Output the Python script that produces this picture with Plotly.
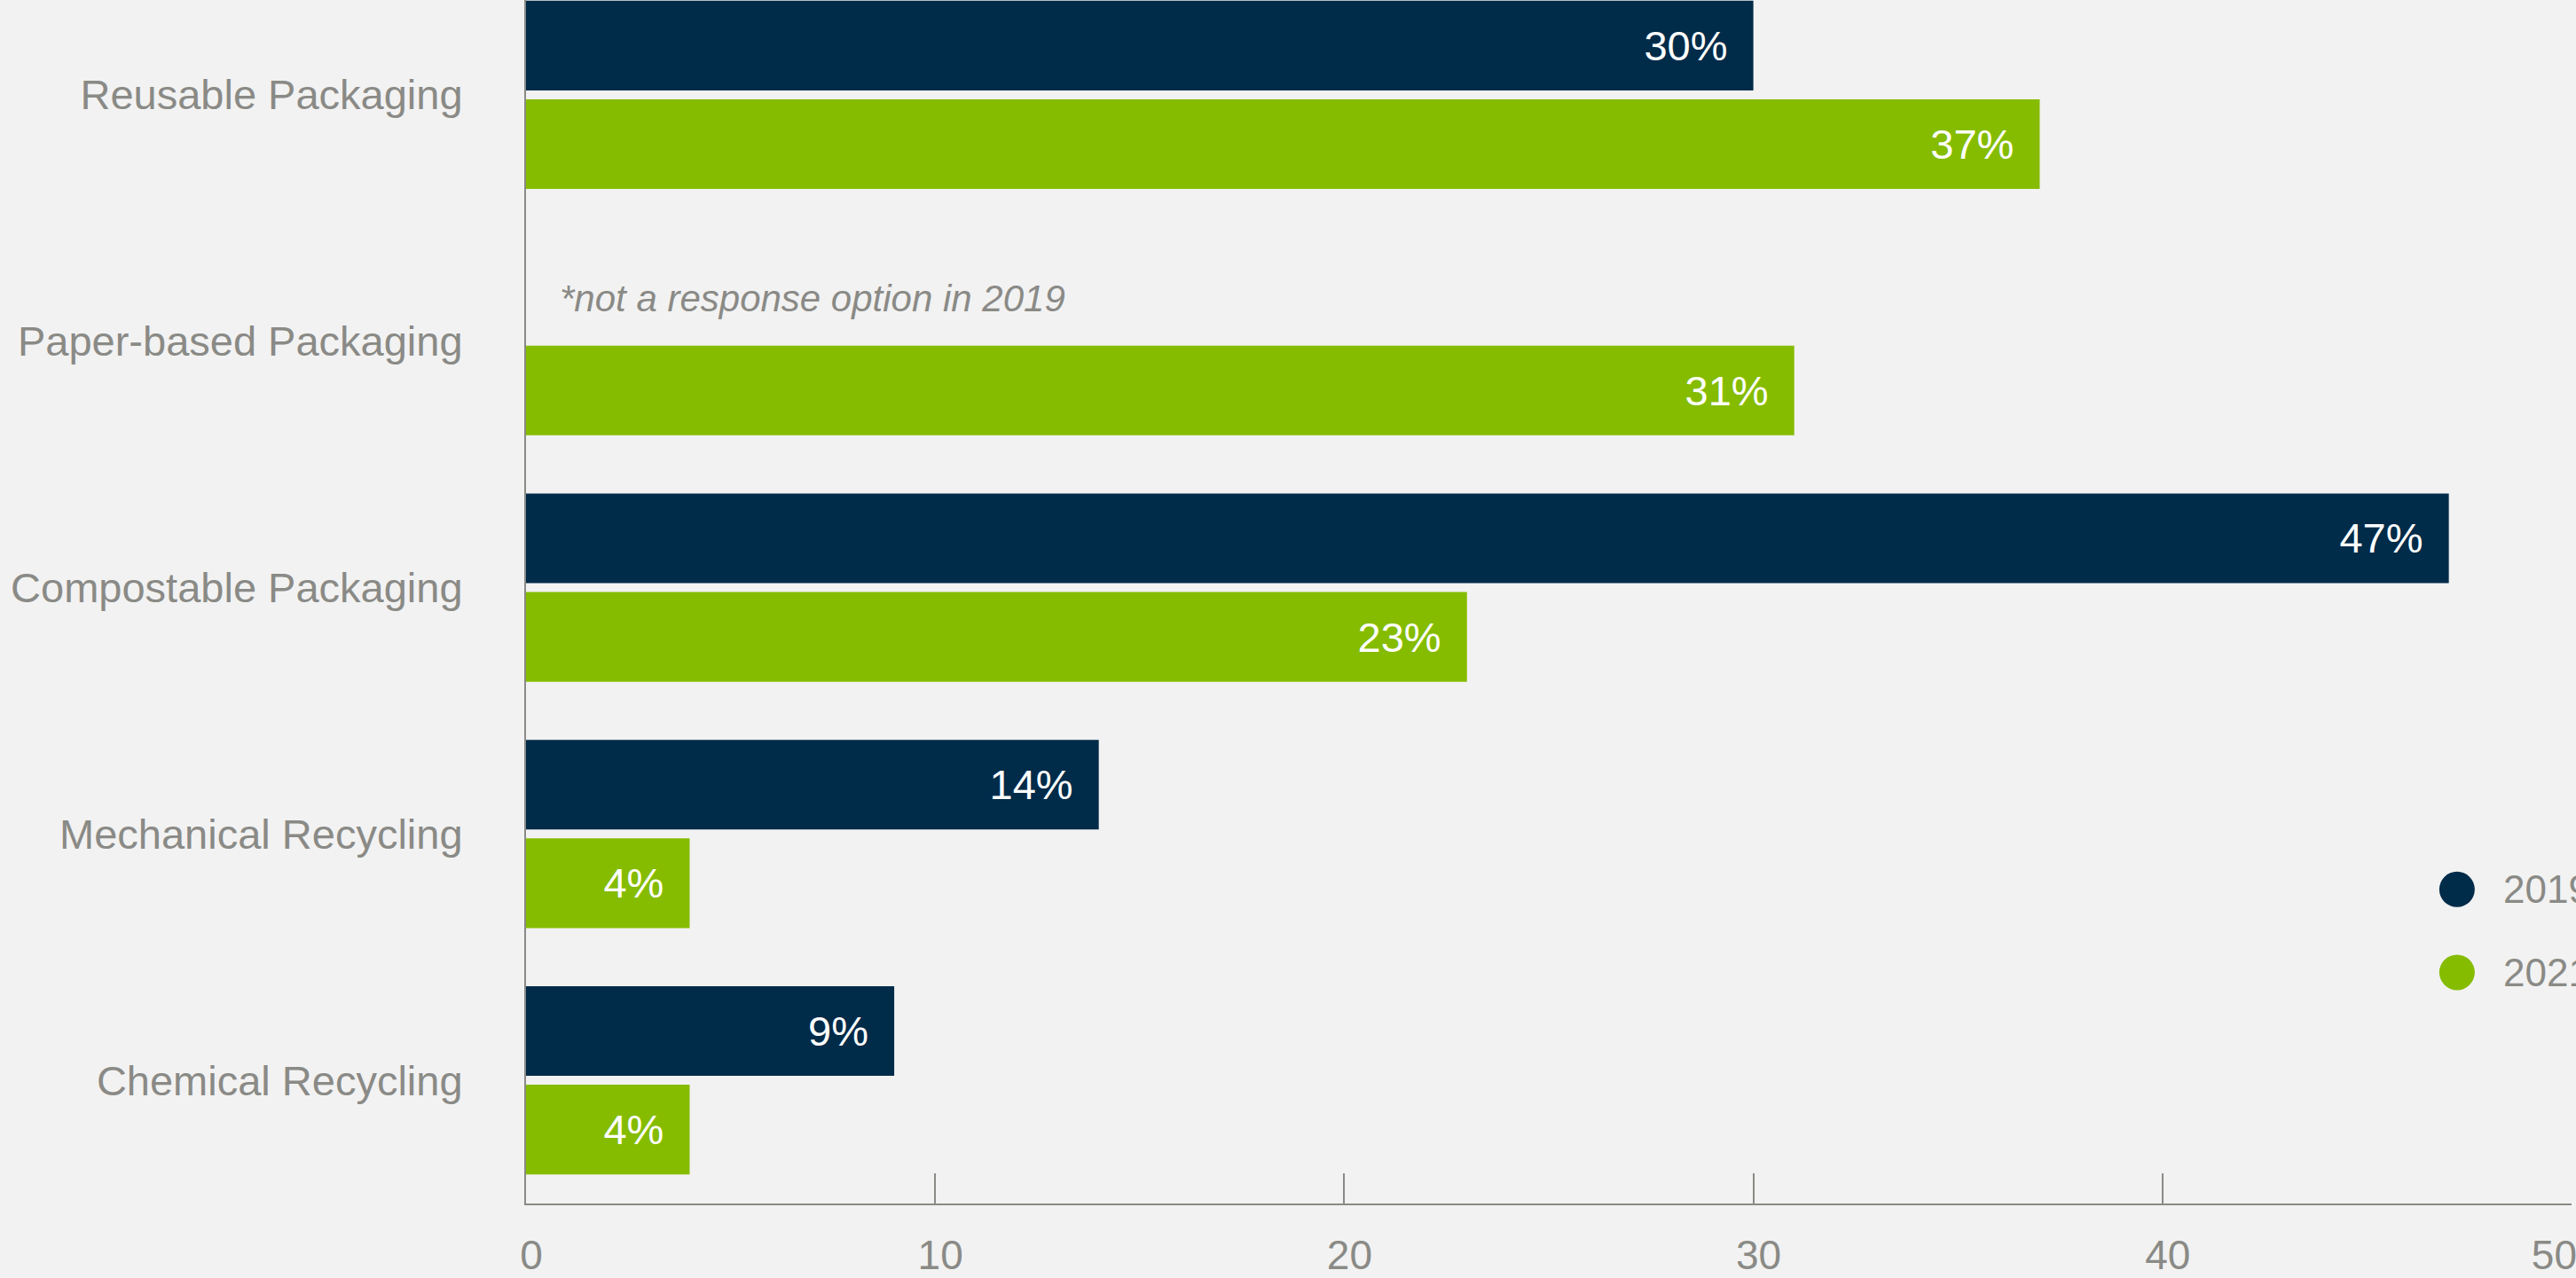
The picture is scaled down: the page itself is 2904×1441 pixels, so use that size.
import plotly.graph_objects as go

categories = ["Reusable Packaging", "Paper-based Packaging", "Compostable Packaging",
              "Mechanical Recycling", "Chemical Recycling"]
values_2019 = [30, None, 47, 14, 9]
values_2021 = [37, 31, 23, 4, 4]
series_names = ["2019", "2021"]
x_ticks = [0, 10, 20, 30, 40, 50]
note_text = "*not a response option in 2019"
note_category = "Paper-based Packaging"

NAVY = "#002b49"
GREEN = "#85bc00"
GRAY = "#8a8a86"
FONT = "Liberation Sans, Arial, Helvetica, sans-serif"
PAD = "\u00a0\u00a0"

fig = go.Figure()
for name, vals, col in [(series_names[0], values_2019, NAVY), (series_names[1], values_2021, GREEN)]:
    fig.add_trace(go.Bar(
        y=categories, x=vals, orientation="h", name=name,
        marker=dict(color=col, line=dict(width=0)),
        texttemplate="%{x}%" + PAD, textposition="inside", insidetextanchor="end",
        textfont=dict(color="white", size=47, family=FONT),
        constraintext="none", showlegend=False, hoverinfo="x+name",
    ))

# legend drawn as large round swatches + labels
legend_y = [0.261, 0.192]
for name, col, yy in zip(series_names, [NAVY, GREEN], legend_y):
    fig.add_shape(type="circle", xref="paper", yref="paper", xsizemode="pixel", ysizemode="pixel",
                  xanchor=0.944, yanchor=yy, x0=-20, x1=20, y0=-20, y1=20,
                  fillcolor=col, line=dict(width=0))
    fig.add_annotation(xref="paper", yref="paper", x=0.9657, y=yy, text=name, showarrow=False,
                       xanchor="left", yanchor="middle", font=dict(size=44, color=GRAY, family=FONT))

fig.add_annotation(x=0, y=note_category, xref="x", yref="y", text="<i>" + note_text + "</i>",
                   showarrow=False, xanchor="left", yanchor="middle", xshift=36, yshift=48,
                   font=dict(size=42, color=GRAY, family=FONT))

tick_text = [str(t) for t in x_ticks]
tick_text[-1] = tick_text[-1] + "\u00a0" * 4

fig.update_layout(
    width=2904, height=1441,
    margin=dict(l=593, r=5, t=0, b=84, autoexpand=False),
    paper_bgcolor="#f2f2f2", plot_bgcolor="rgba(0,0,0,0)",
    barmode="group", bargap=0.2, bargroupgap=0.09,
    font=dict(family=FONT, color=GRAY),
    showlegend=False,
)
fig.update_xaxes(range=[0, 50], tickvals=x_ticks, ticktext=tick_text,
                 showgrid=False, zeroline=False, showline=True, linecolor=GRAY, linewidth=2,
                 ticks="inside", ticklen=34, tickwidth=2, tickcolor=GRAY,
                 tickfont=dict(size=46, color=GRAY, family=FONT), ticklabelstandoff=17,
                 ticklabelshift=6, ticklabeloverflow="allow")
fig.update_yaxes(type="category", categoryorder="array", categoryarray=categories,
                 range=[4.5, -0.385], showgrid=False, zeroline=False, showline=True,
                 linecolor=GRAY, linewidth=2, ticks="",
                 tickfont=dict(size=47, color=GRAY, family=FONT), ticklabelstandoff=60)

fig.write_html("out.html", config={"displayModeBar": False},
               post_script="document.body.style.margin='0';document.body.style.background='#f2f2f2';")
